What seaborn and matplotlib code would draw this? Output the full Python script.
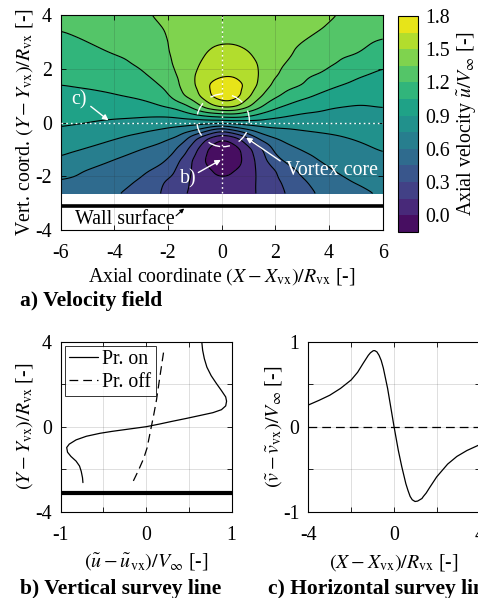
import numpy as np
import matplotlib
matplotlib.use("Agg")
import matplotlib.pyplot as plt
import matplotlib.tri as mtri
from matplotlib.patches import Circle
import seaborn as sns

# ---------------------------------------------------------------------------
# Data
# ---------------------------------------------------------------------------
# a) axial velocity field u/V_inf on a grid (rows = y from bottom to top)
x_grid = [-6, -5, -4, -3, -2, -1.5, -1, -0.5, 0, 0.5, 1, 1.5, 2, 3, 4, 5, 6]
y_grid = [-2.64, -2.2, -1.8, -1.4, -1.0, -0.6, -0.3, -0.1, 0.1, 0.3,
          0.6, 1.0, 1.4, 1.8, 2.2, 2.6, 3.0, 3.5, 4.0]
u_grid = [
    [0.53, 0.50, 0.47, 0.38, 0.27, 0.18, 0.10, 0.08, 0.06, 0.07, 0.09, 0.20, 0.24, 0.40, 0.50, 0.54, 0.63],
    [0.59, 0.55, 0.515, 0.43, 0.28, 0.214, 0.10, 0.05, 0.03, 0.04, 0.08, 0.21, 0.265, 0.43, 0.55, 0.609, 0.68],
    [0.66, 0.59, 0.555, 0.489, 0.36, 0.246, 0.11, 0.02, -0.05, 0.00, 0.07, 0.22, 0.29, 0.488, 0.59, 0.645, 0.705],
    [0.732, 0.666, 0.595, 0.544, 0.46, 0.277, 0.12, -0.05, -0.13, -0.08, 0.07, 0.24, 0.42, 0.547, 0.635, 0.682, 0.73],
    [0.79, 0.741, 0.675, 0.598, 0.534, 0.40, 0.196, -0.02, -0.15, -0.08, 0.11, 0.28, 0.517, 0.608, 0.68, 0.718, 0.76],
    [0.845, 0.807, 0.758, 0.699, 0.617, 0.559, 0.325, 0.126, -0.02, 0.08, 0.27, 0.53, 0.60, 0.689, 0.727, 0.756, 0.795],
    [0.885, 0.856, 0.816, 0.776, 0.717, 0.68, 0.60, 0.45, 0.28, 0.45, 0.57, 0.67, 0.7125, 0.75, 0.766, 0.789, 0.82],
    [0.908, 0.889, 0.856, 0.828, 0.786, 0.773, 0.75, 0.711, 0.62, 0.70, 0.75, 0.79, 0.797, 0.797, 0.799, 0.812, 0.84],
    [0.93, 0.915, 0.896, 0.879, 0.857, 0.867, 0.886, 0.91, 0.92, 0.95, 0.92, 0.90, 0.876, 0.844, 0.832, 0.834, 0.86],
    [0.946, 0.94, 0.929, 0.929, 0.936, 0.975, 1.05, 1.15, 1.17, 1.20, 1.12, 1.01, 0.957, 0.89, 0.864, 0.857, 0.877],
    [0.975, 0.975, 0.977, 1.002, 1.06, 1.121, 1.26, 1.45, 1.56, 1.55, 1.37, 1.195, 1.08, 0.974, 0.917, 0.891, 0.905],
    [1.012, 1.023, 1.042, 1.076, 1.168, 1.337, 1.43, 1.63, 1.77, 1.75, 1.53, 1.34, 1.222, 1.088, 1.001, 0.95, 0.945],
    [1.05, 1.065, 1.086, 1.128, 1.235, 1.375, 1.49, 1.65, 1.77, 1.75, 1.59, 1.45, 1.296, 1.202, 1.087, 1.0125, 0.985],
    [1.08, 1.10, 1.126, 1.179, 1.286, 1.39, 1.50, 1.59, 1.62, 1.63, 1.57, 1.48, 1.36, 1.238, 1.174, 1.078, 1.025],
    [1.11, 1.133, 1.167, 1.22, 1.325, 1.40, 1.47, 1.55, 1.59, 1.60, 1.54, 1.48, 1.39, 1.28, 1.22, 1.147, 1.07],
    [1.14, 1.168, 1.207, 1.245, 1.34, 1.405, 1.45, 1.51, 1.55, 1.54, 1.50, 1.47, 1.41, 1.32, 1.25, 1.21, 1.13],
    [1.17, 1.20, 1.24, 1.27, 1.345, 1.41, 1.44, 1.47, 1.49, 1.49, 1.48, 1.465, 1.42, 1.35, 1.29, 1.235, 1.18],
    [1.205, 1.23, 1.28, 1.30, 1.36, 1.415, 1.43, 1.45, 1.47, 1.47, 1.47, 1.46, 1.43, 1.395, 1.335, 1.27, 1.25],
    [1.24, 1.26, 1.31, 1.33, 1.38, 1.42, 1.43, 1.44, 1.45, 1.46, 1.46, 1.45, 1.44, 1.43, 1.37, 1.30, 1.32],
]
u_levels = [-0.15, 0.0, 0.15, 0.3, 0.45, 0.6, 0.75, 0.9, 1.05, 1.2, 1.35, 1.5, 1.65, 1.8]
cbar_ticks = [0.0, 0.3, 0.6, 0.9, 1.2, 1.5, 1.8]
wall_y = -3.125
core_center = (0.05, 0.08)
core_radius = 0.98

# b) vertical survey line (x = 0)
y_on = [4.0, 3.6, 3.2, 2.8, 2.4, 2.04, 1.7, 1.4, 1.2, 0.98, 0.8, 0.66, 0.52,
        0.39, 0.25, 0.12, 0.0, -0.11, -0.22, -0.31, -0.45, -0.62, -0.82,
        -0.98, -1.2, -1.4, -1.62, -1.85, -2.1, -2.4, -2.63]
du_on = [0.65, 0.66, 0.68, 0.71, 0.76, 0.82, 0.88, 0.93, 0.94, 0.93, 0.88,
         0.78, 0.62, 0.47, 0.30, 0.15, 0.0, -0.20, -0.40, -0.54, -0.70,
         -0.82, -0.90, -0.93, -0.92, -0.88, -0.82, -0.78, -0.76, -0.745, -0.74]
y_off = [-2.55, -2.3, -2.05, -1.5, -1.0, -0.4, 0.0, 0.6, 1.25, 2.35, 3.69]
du_off = [-0.15, -0.12, -0.09, -0.03, 0.01, 0.04, 0.06, 0.09, 0.12, 0.16, 0.21]

# c) horizontal survey line (y = 0)
x_on = [-4.0, -3.5, -3.0, -2.5, -2.0, -1.7, -1.43, -1.2, -1.1, -0.97, -0.9,
        -0.8, -0.7, -0.6, -0.5, -0.4, -0.3, -0.2, 0.0, 0.2, 0.36, 0.55, 0.65,
        0.75, 0.85, 0.98, 1.1, 1.2, 1.3, 1.37, 1.5, 1.65, 1.99, 2.5, 2.93,
        3.4, 3.92, 4.0]
dv_on = [0.255, 0.31, 0.37, 0.45, 0.55, 0.64, 0.75, 0.84, 0.87, 0.894, 0.895,
         0.88, 0.84, 0.78, 0.69, 0.57, 0.45, 0.30, 0.0, -0.28, -0.47, -0.67,
         -0.75, -0.82, -0.86, -0.88, -0.875, -0.86, -0.845, -0.82, -0.78,
         -0.72, -0.59, -0.44, -0.35, -0.28, -0.22, -0.21]
x_off = [-4.0, 4.0]
dv_off = [0.0, 0.0]

# ---------------------------------------------------------------------------
# Style
# ---------------------------------------------------------------------------
sns.set_theme(style="ticks")
FS = 14.3
plt.rcParams.update({
    "font.family": ["Liberation Serif", "DejaVu Serif"],
    "mathtext.fontset": "stix",
    "axes.unicode_minus": False,
    "font.size": FS,
    "axes.labelsize": FS,
    "xtick.labelsize": FS,
    "ytick.labelsize": FS,
    "legend.fontsize": FS,
    "axes.edgecolor": "black",
    "axes.linewidth": 0.8,
    "xtick.direction": "in",
    "ytick.direction": "in",
    "xtick.top": True,
    "ytick.right": True,
    "xtick.major.size": 3.5,
    "ytick.major.size": 3.5,
    "xtick.major.width": 0.6,
    "ytick.major.width": 0.6,
    "xtick.major.pad": 10,
    "ytick.major.pad": 6.5,
    "xtick.color": "black",
    "ytick.color": "black",
    "text.color": "black",
    "axes.labelcolor": "black",
})

W, H = 478, 598
fig = plt.figure(figsize=(W / 100, H / 100), dpi=100)


def px_axes(left, top, right, bottom):
    return fig.add_axes([left / W, 1 - bottom / H, (right - left) / W, (bottom - top) / H])


def _gauss(sigma_pts):
    r = int(3 * sigma_pts) + 1
    k = np.exp(-0.5 * (np.arange(-r, r + 1) / sigma_pts) ** 2)
    return k / k.sum()


def smooth_field(Z, sx, sy):
    """Light separable blur so the contour lines come out round instead of faceted."""
    kx, ky = _gauss(sx), _gauss(sy)
    Zp = np.pad(Z, ((len(ky) // 2,) * 2, (len(kx) // 2,) * 2), mode="edge")
    Z1 = np.apply_along_axis(lambda r: np.convolve(r, kx, mode="valid"), 1, Zp)
    return np.apply_along_axis(lambda c: np.convolve(c, ky, mode="valid"), 0, Z1)


GRID_KW = dict(color="0.15", alpha=0.15, linewidth=0.7)
WHITE_DOTS = dict(color="white", linewidth=1.0, linestyle=(0, (1.2, 2.2)))

# ---------------------------------------------------------------------------
# a) Velocity field
# ---------------------------------------------------------------------------
ax_a = px_axes(60.7, 15, 382.7, 230)
Xg, Yg = np.meshgrid(x_grid, y_grid)
tri = mtri.Triangulation(Xg.ravel(), Yg.ravel())
lin = mtri.LinearTriInterpolator(tri, np.array(u_grid).ravel())
xf = np.linspace(min(x_grid), max(x_grid), 241)
yf = np.linspace(min(y_grid), max(y_grid), 267)
XF, YF = np.meshgrid(xf, yf)
UF = np.ma.filled(lin(XF, YF), np.nan)
UF = smooth_field(UF, sx=5.0, sy=3.0)
UF = np.clip(UF, u_levels[0] + 1e-3, u_levels[-1] - 1e-3)

cs = ax_a.contourf(XF, YF, UF, levels=u_levels, cmap="viridis", zorder=1)
ax_a.contour(XF, YF, UF, levels=u_levels, colors="black", linewidths=0.8, zorder=2)

ax_a.set_xlim(-6, 6)
ax_a.set_ylim(-4, 4)
ax_a.set_xticks(np.arange(-6, 7, 2))
ax_a.set_yticks(np.arange(-4, 5, 2))
ax_a.grid(True, **GRID_KW)
ax_a.set_axisbelow(False)

ax_a.axhline(wall_y, color="black", linewidth=2.6, zorder=4)
ax_a.plot([0, 0], [min(y_grid), max(y_grid)], zorder=3, **WHITE_DOTS)
ax_a.plot([-6, 6], [0, 0], zorder=3, **WHITE_DOTS)
ax_a.add_patch(Circle(core_center, core_radius, fill=False, edgecolor="white",
                      linewidth=1.0, linestyle=(4, (9, 7)), zorder=3))

arrow_w = dict(arrowstyle="-|>", color="white", lw=1.0, mutation_scale=8, shrinkA=0, shrinkB=0)
ax_a.text(-5.3, 0.85, "c)", color="white", ha="center", va="center", zorder=5)
ax_a.annotate("", xy=(-4.22, 0.08), xytext=(-4.88, 0.6), arrowprops=arrow_w, zorder=5)
ax_a.text(-1.25, -2.1, "b)", color="white", ha="center", va="center", zorder=5)
ax_a.annotate("", xy=(-0.03, -1.39), xytext=(-0.87, -1.86), arrowprops=arrow_w, zorder=5)
ax_a.text(4.12, -1.8, "Vortex core", color="white", ha="center", va="center", zorder=5)
ax_a.annotate("", xy=(0.91, -0.56), xytext=(2.18, -1.43), arrowprops=arrow_w, zorder=5)
ax_a.text(-3.6, -3.6, "Wall surface", color="black", ha="center", va="center", zorder=5)
ax_a.annotate("", xy=(-1.4, -3.2), xytext=(-1.7, -3.47),
              arrowprops=dict(arrowstyle="-|>", color="black", lw=0.8,
                              mutation_scale=6, shrinkA=0, shrinkB=0), zorder=5)

ax_a.set_xlabel(r"Axial coordinate $(X - X_{\mathrm{vx}})/R_{\mathrm{vx}}$ [-]", labelpad=2)
ax_a.set_ylabel(r"Vert. coord. $(Y - Y_{\mathrm{vx}})/R_{\mathrm{vx}}$ [-]", labelpad=0)

cax = px_axes(397.7, 16, 418.3, 231.7)
cb = fig.colorbar(cs, cax=cax, ticks=cbar_ticks, format="%.1f")
cb.outline.set_edgecolor("black")
cb.outline.set_linewidth(0.8)
cax.tick_params(direction="in", length=2, width=0.6, right=True, left=False, pad=5)
cb.set_label(r"Axial velocity $\tilde{u}/V_{\infty}$ [-]", labelpad=4)

# ---------------------------------------------------------------------------
# b) Vertical survey line
# ---------------------------------------------------------------------------
ax_b = px_axes(60.7, 341.7, 231.7, 511.7)
sns.lineplot(x=du_on, y=y_on, sort=False, estimator=None, color="black",
             linewidth=0.9, ax=ax_b, label="Pr. on")
sns.lineplot(x=du_off, y=y_off, sort=False, estimator=None, color="black",
             linewidth=0.9, linestyle=(0, (7, 4)), ax=ax_b, label="Pr. off")
ax_b.axhline(wall_y, color="black", linewidth=3.0)
ax_b.set_xlim(-1, 1)
ax_b.set_ylim(-4, 4)
ax_b.set_xticks([-1, -0.5, 0, 0.5, 1], ["-1", "", "0", "", "1"])
ax_b.set_yticks([-4, -2, 0, 2, 4], ["-4", "", "0", "", "4"])
ax_b.grid(True, **GRID_KW)
ax_b.set_xlabel(r"$(\tilde{u} - \tilde{u}_{\mathrm{vx}})/V_{\infty}$ [-]", labelpad=5)
ax_b.set_ylabel(r"$(Y - Y_{\mathrm{vx}})/R_{\mathrm{vx}}$ [-]", labelpad=0)
leg = ax_b.legend(loc="upper left", frameon=True, fancybox=False, handlelength=1.5,
                  handletextpad=0.2, borderpad=0.2, labelspacing=0.2,
                  borderaxespad=0.2)
leg.get_frame().set_edgecolor("black")
leg.get_frame().set_linewidth(0.7)

# ---------------------------------------------------------------------------
# c) Horizontal survey line
# ---------------------------------------------------------------------------
ax_c = px_axes(308.3, 341.7, 479.8, 511.7)
sns.lineplot(x=x_on, y=dv_on, sort=False, estimator=None, color="black",
             linewidth=0.9, ax=ax_c)
sns.lineplot(x=x_off, y=dv_off, sort=False, estimator=None, color="black",
             linewidth=0.9, linestyle=(0, (7, 4)), ax=ax_c)
ax_c.set_xlim(-4, 4)
ax_c.set_ylim(-1, 1)
ax_c.set_xticks([-4, -2, 0, 2, 4], ["-4", "", "0", "", "4"])
ax_c.set_yticks([-1, -0.5, 0, 0.5, 1], ["-1", "", "0", "", "1"])
ax_c.grid(True, **GRID_KW)
ax_c.set_xlabel(r"$(X - X_{\mathrm{vx}})/R_{\mathrm{vx}}$ [-]", labelpad=5)
ax_c.set_ylabel(r"$(\tilde{v} - \tilde{v}_{\mathrm{vx}})/V_{\infty}$ [-]", labelpad=-1)

# panel captions
TFS = 15.5
fig.text(20 / W, 1 - 306 / H, "a) Velocity field", fontsize=TFS, fontweight="bold", va="baseline")
fig.text(20 / W, 1 - 594 / H, "b) Vertical survey line", fontsize=TFS, fontweight="bold", va="baseline")
fig.text(268.3 / W, 1 - 594 / H, "c) Horizontal survey line", fontsize=TFS, fontweight="bold", va="baseline")

fig.savefig("out.png", dpi=100)
